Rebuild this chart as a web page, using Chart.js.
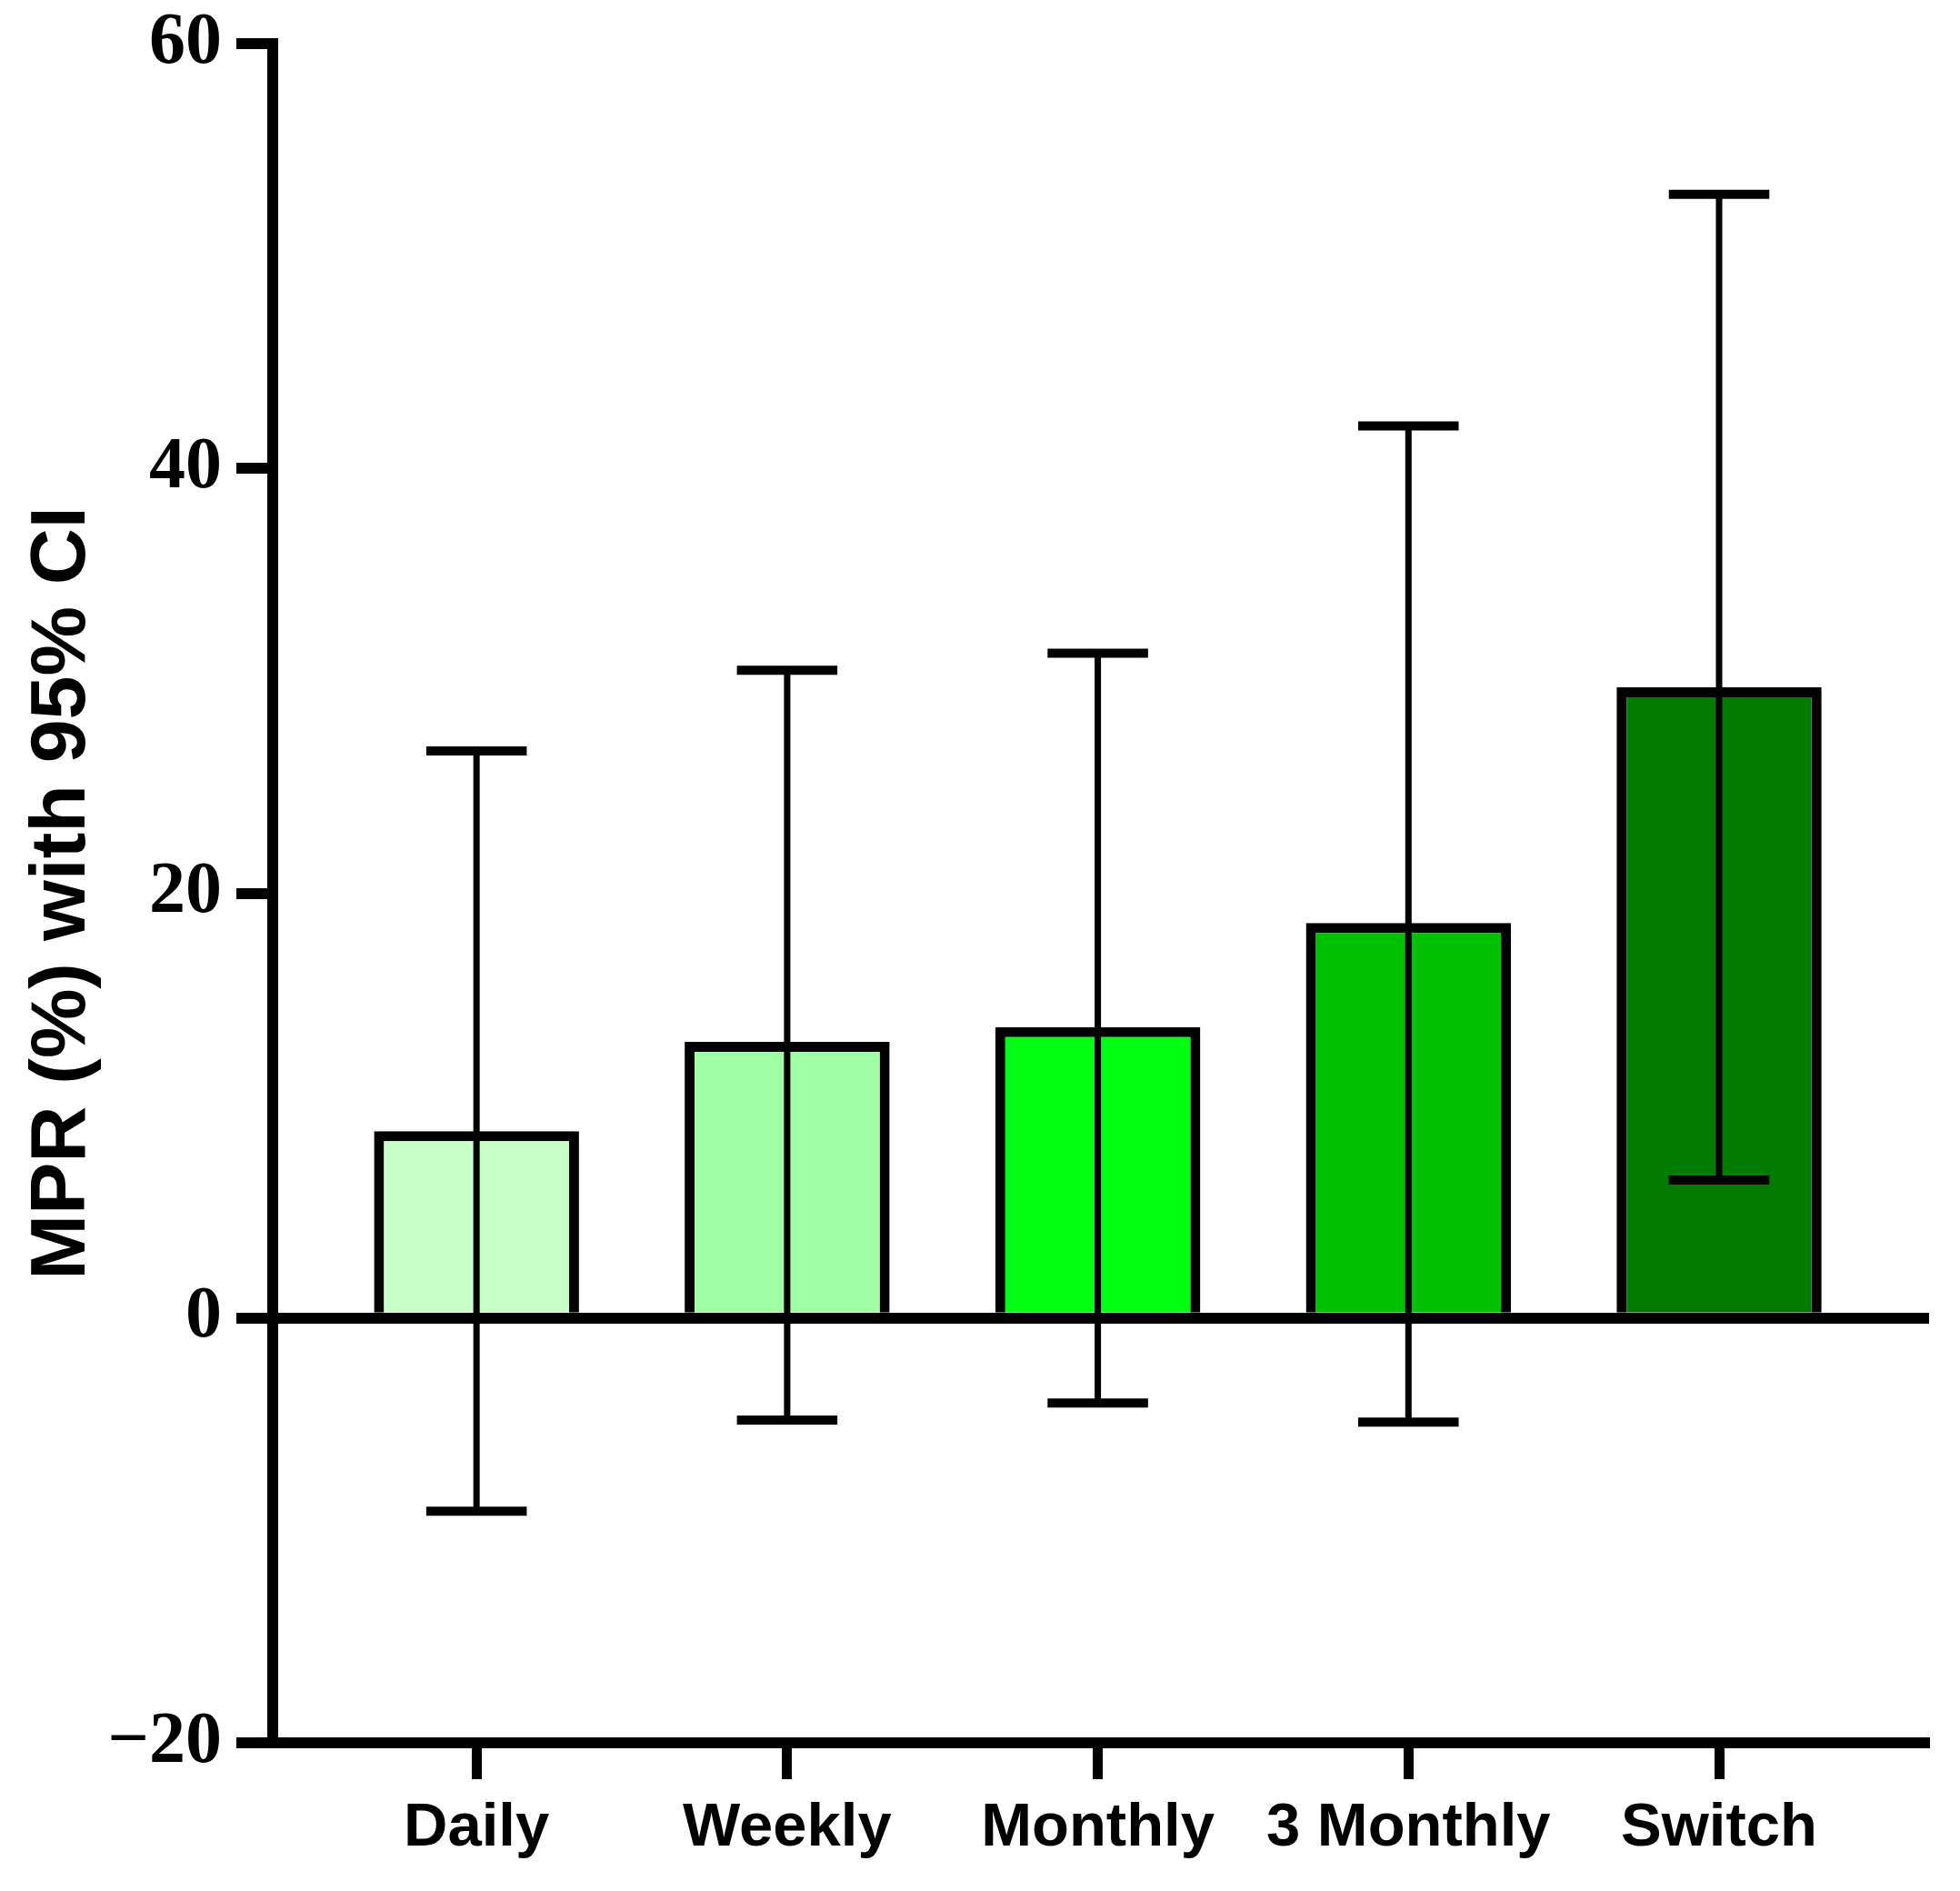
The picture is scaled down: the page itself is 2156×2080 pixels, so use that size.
<!DOCTYPE html>
<html lang="en">
<head>
    <meta charset="UTF-8">
    <title>MPR (%) with 95% CI</title>
    <script src="https://cdn.jsdelivr.net/npm/chart.js@4.4.1/dist/chart.umd.min.js"></script>
    <style>
        html, body { margin: 0; padding: 0; background: #ffffff; }
        canvas { display: block; }
    </style>
</head>
<body>
    <canvas id="mprChart" width="2156" height="2080"></canvas>

    <script>
        // --- Data ---
        const categories = ['Daily', 'Weekly', 'Monthly', '3 Monthly', 'Switch'];
        const mprMean = [8.8, 13.0, 13.7, 18.6, 29.7];
        const ciLow = [-9.1, -4.8, -4.0, -4.9, 6.5];
        const ciHigh = [26.7, 30.5, 31.3, 42.0, 52.9];
        const yTicks = [-20, 0, 20, 40, 60];

        const barColors = ['#c8ffc8', '#a0ffa0', '#00ff10', '#00c000', '#007a00'];

        // error bars drawn on top of the bars
        const errorBars = {
            id: 'errorBars',
            afterDatasetsDraw(chart) {
                const ctx = chart.ctx;
                const y = chart.scales.y;
                const meta = chart.getDatasetMeta(0);
                ctx.save();
                ctx.strokeStyle = '#000';
                ctx.lineCap = 'butt';
                meta.data.forEach((bar, i) => {
                    const top = y.getPixelForValue(ciHigh[i]);
                    const bot = y.getPixelForValue(ciLow[i]);
                    const half = bar.width * 0.245;
                    ctx.lineWidth = 7;
                    ctx.beginPath();
                    ctx.moveTo(bar.x, top);
                    ctx.lineTo(bar.x, bot);
                    ctx.stroke();
                    ctx.lineWidth = 10;
                    ctx.beginPath();
                    ctx.moveTo(bar.x - half, top);
                    ctx.lineTo(bar.x + half, top);
                    ctx.moveTo(bar.x - half, bot);
                    ctx.lineTo(bar.x + half, bot);
                    ctx.stroke();
                });
                ctx.restore();
            }
        };

        const ctx = document.getElementById('mprChart').getContext('2d');
        new Chart(ctx, {
            type: 'bar',
            data: {
                datasets: [{
                    data: mprMean.map((v, i) => ({ x: i, y: v })),
                    backgroundColor: barColors,
                    borderColor: '#000',
                    borderWidth: 11,
                    borderSkipped: 'start',
                    barPercentage: 0.66,
                    categoryPercentage: 1.0
                }]
            },
            options: {
                responsive: false,
                devicePixelRatio: 1,
                animation: false,
                layout: { padding: { top: 45, right: 34, left: 0, bottom: 0 } },
                plugins: {
                    legend: { display: false },
                    tooltip: { enabled: false }
                },
                scales: {
                    x: {
                        type: 'linear',
                        min: -0.656,
                        max: 4.676,
                        offset: false,
                        afterBuildTicks: (scale) => {
                            scale.ticks = categories.map((c, i) => ({ value: i }));
                        },
                        afterFit: (scale) => { scale.height = 163; },
                        border: { display: true, color: '#000', width: 12 },
                        grid: {
                            offset: false,
                            drawOnChartArea: false,
                            drawTicks: true,
                            tickLength: 40,
                            tickColor: '#000',
                            tickWidth: 11
                        },
                        ticks: {
                            padding: 14,
                            color: '#000',
                            maxRotation: 0,
                            autoSkip: false,
                            font: { family: '"Liberation Sans", Arial, sans-serif', size: 67, weight: 'bold' },
                            callback: (v) => categories[v]
                        }
                    },
                    y: {
                        min: -20,
                        max: 60,
                        z: 1,
                        afterBuildTicks: (scale) => {
                            scale.ticks = yTicks.map(v => ({ value: v }));
                        },
                        afterFit: (scale) => { scale.width = 300; },
                        border: { display: true, color: '#000', width: 12 },
                        grid: {
                            color: (c) => (c.tick && c.tick.value === 0 ? '#000' : 'rgba(0,0,0,0)'),
                            lineWidth: 12,
                            drawTicks: true,
                            tickLength: 40,
                            tickColor: '#000',
                            tickWidth: 12
                        },
                        ticks: {
                            padding: 16,
                            color: '#000',
                            font: { family: '"Liberation Serif", "Times New Roman", serif', size: 80, weight: 'bold', lineHeight: 0.8 },
                            callback: (v) => (v < 0 ? '\u2212' + Math.abs(v) : String(v))
                        },
                        title: {
                            display: true,
                            text: 'MPR (%) with 95% CI',
                            color: '#000',
                            padding: { top: 18, bottom: 0 },
                            font: { family: '"Liberation Sans", Arial, sans-serif', size: 86, weight: 'bold' }
                        }
                    }
                }
            },
            plugins: [errorBars]
        });
    </script>
</body>
</html>
